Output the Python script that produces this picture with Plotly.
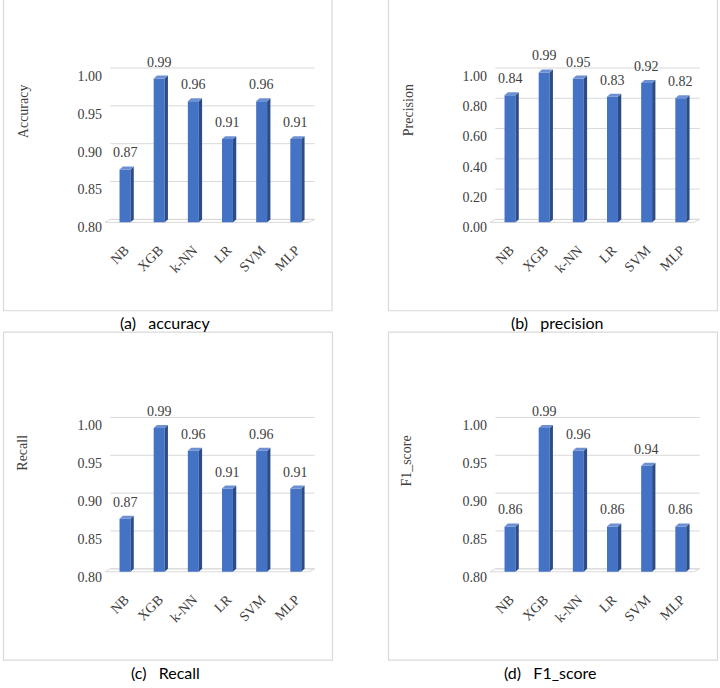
import plotly.graph_objects as go

# ---------------- data ----------------
models = ["NB", "XGB", "k-NN", "LR", "SVM", "MLP"]
accuracy = [0.87, 0.99, 0.96, 0.91, 0.96, 0.91]
precision = [0.84, 0.99, 0.95, 0.83, 0.92, 0.82]
recall = [0.87, 0.99, 0.96, 0.91, 0.96, 0.91]
f1_score = [0.86, 0.99, 0.96, 0.86, 0.94, 0.86]
ticks_narrow = [0.80, 0.85, 0.90, 0.95, 1.00]
ticks_wide = [0.00, 0.20, 0.40, 0.60, 0.80, 1.00]
axis_titles = ["Accuracy", "Precision", "Recall", "F1_score"]
captions = ["(a)\u00a0\u00a0\u00a0accuracy", "(b)\u00a0\u00a0\u00a0precision",
            "(c)\u00a0\u00a0\u00a0Recall", "(d)\u00a0\u00a0\u00a0F1_score"]

# ---------------- style / geometry ----------------
W, H = 720, 688
FRONT = "#4472C4"
SIDE = "#2B4C86"
TOP = "#6C90D2"
GRID = "#D9D9D9"
TXT = "#404040"
SERIF = "Liberation Serif, Times New Roman, serif"
SANS = "Lato, Open Sans, sans-serif"

BAND_PX = 34.16        # pixel width of one category band
BAR_W = 0.32           # bar width in category units
SIDE_DX = 3.3 / BAND_PX
SIDE_DY_PX = 3.0
FLOOR_X0, FLOOR_X1 = -0.59, 5.39
FLOOR_DX = 5.5 / BAND_PX

panels = [
    dict(vals=accuracy, ticks=ticks_narrow, ox=0, oy=0, tx=23, ty=112, cx=165),
    dict(vals=precision, ticks=ticks_wide, ox=385, oy=0, tx=408, ty=111, cx=557),
    dict(vals=recall, ticks=ticks_narrow, ox=0, oy=352, tx=23, ty=456, cx=165),
    dict(vals=f1_score, ticks=ticks_narrow, ox=385, oy=352, tx=407, ty=465, cx=550),
]
borders = [(3.5, 332, -3, 313), (388.5, 717.5, -3, 313),
           (3.5, 332.5, 334.5, 665), (388.5, 717.5, 334.5, 665)]
caption_y = [325, 325, 677, 677]

def fx(p):
    return p / W

def fy(p):
    return 1 - p / H

fig = go.Figure()
shapes = []
annotations = []
layout_axes = {}

for k, P in enumerate(panels):
    n = "" if k == 0 else str(k + 1)
    xa, ya = "x" + n, "y" + n
    ox, oy = P["ox"], P["oy"]
    ticks = P["ticks"]
    base, top = ticks[0], ticks[-1]
    pxy = (224 - 71.5) / (top - base)
    dy = SIDE_DY_PX / pxy
    yr = [base - (232 - 224) / pxy, top + (71.5 - 62) / pxy]
    xr = [(105 - 125) / BAND_PX, (316 - 125) / BAND_PX]
    idx = list(range(len(models)))
    vals = P["vals"]

    # back-wall gridlines & floor
    for t in ticks:
        shapes.append(dict(type="line", xref=xa, yref=ya, layer="below",
                           x0=FLOOR_X0 + FLOOR_DX, x1=FLOOR_X1 + FLOOR_DX,
                           y0=t + dy, y1=t + dy, line=dict(color=GRID, width=1)))
    shapes.append(dict(type="path", xref=xa, yref=ya, layer="below",
                       path=(f"M{FLOOR_X0},{base} L{FLOOR_X1},{base} "
                             f"L{FLOOR_X1 + FLOOR_DX},{base + dy} L{FLOOR_X0 + FLOOR_DX},{base + dy} Z"),
                       line=dict(color=GRID, width=1), fillcolor="rgba(0,0,0,0)"))

    # front faces
    fig.add_trace(go.Bar(x=idx, y=[v - base for v in vals], base=base, width=BAR_W,
                         marker=dict(color=FRONT, line=dict(width=0)),
                         xaxis=xa, yaxis=ya, showlegend=False, hoverinfo="skip"))
    # side and top faces
    for i, v in zip(idx, vals):
        xl, xrr = i - BAR_W / 2, i + BAR_W / 2
        fig.add_trace(go.Scatter(
            x=[xrr, xrr + SIDE_DX, xrr + SIDE_DX, xrr, xrr],
            y=[base, base + dy, v + dy, v, base],
            fill="toself", fillcolor=SIDE, mode="lines", line=dict(width=0, color=SIDE),
            xaxis=xa, yaxis=ya, showlegend=False, hoverinfo="skip"))
        fig.add_trace(go.Scatter(
            x=[xl, xrr, xrr + SIDE_DX, xl + SIDE_DX, xl],
            y=[v, v, v + dy, v + dy, v],
            fill="toself", fillcolor=TOP, mode="lines", line=dict(width=0, color=TOP),
            xaxis=xa, yaxis=ya, showlegend=False, hoverinfo="skip"))
        annotations.append(dict(x=i, y=v, xref=xa, yref=ya, text=f"{v:.2f}",
                                showarrow=False, yanchor="bottom", yshift=7,
                                font=dict(family=SERIF, size=14, color=TXT)))

    layout_axes["xaxis" + n] = dict(
        domain=[fx(105 + ox), fx(316 + ox)], range=xr, anchor=ya,
        tickvals=idx, ticktext=models, tickangle=-45, showgrid=False,
        zeroline=False, showline=False, ticks="", ticklabelstandoff=8,
        tickfont=dict(family=SERIF, size=14, color=TXT), fixedrange=True)
    layout_axes["yaxis" + n] = dict(
        domain=[fy(232 + oy), fy(62 + oy)], range=yr, anchor=xa,
        tickvals=ticks, ticktext=[f"{t:.2f}" for t in ticks], showgrid=False,
        zeroline=False, showline=False, ticks="", ticklabelshift=5,
        ticklabelstandoff=2,
        tickfont=dict(family=SERIF, size=14, color=TXT), fixedrange=True)

    # axis title
    annotations.append(dict(x=fx(P["tx"]), y=fy(P["ty"]), xref="paper", yref="paper",
                            text=axis_titles[k], textangle=-90, showarrow=False,
                            xanchor="center", yanchor="middle",
                            font=dict(family=SERIF, size=14, color=TXT)))
    # caption
    annotations.append(dict(x=fx(P["cx"]), y=fy(caption_y[k]), xref="paper", yref="paper",
                            text=captions[k], showarrow=False,
                            xanchor="center", yanchor="middle",
                            font=dict(family=SANS, size=16, color="#000000")))
    # panel border
    bx0, bx1, by0, by1 = borders[k]
    shapes.append(dict(type="rect", xref="paper", yref="paper",
                       x0=fx(bx0), x1=fx(bx1), y0=fy(by1), y1=fy(by0),
                       line=dict(color=GRID, width=1.2), layer="below"))

fig.update_layout(width=W, height=H, margin=dict(l=0, r=0, t=0, b=0),
                  paper_bgcolor="white", plot_bgcolor="rgba(0,0,0,0)",
                  shapes=shapes, annotations=annotations, showlegend=False,
                  **layout_axes)
fig.write_html("out.html")
